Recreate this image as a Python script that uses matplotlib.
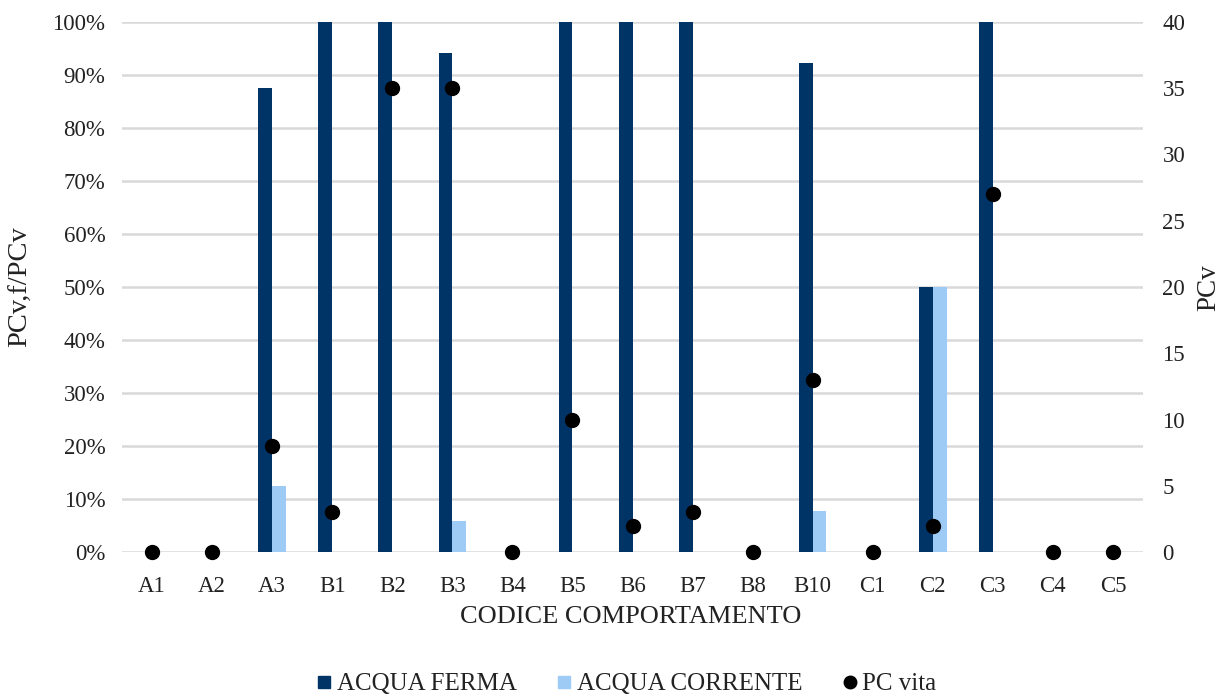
import matplotlib.pyplot as plt
import numpy as np
from matplotlib.lines import Line2D

SERIF = ['Liberation Serif', 'DejaVu Serif']
plt.rcParams['font.family'] = SERIF

categories = ["A1", "A2", "A3", "B1", "B2", "B3", "B4", "B5", "B6", "B7", "B8",
              "B10", "C1", "C2", "C3", "C4", "C5"]
acqua_ferma = [0, 0, 87.5, 100, 100, 94.1, 0, 100, 100, 100, 0, 92.3, 0, 50, 100, 0, 0]
acqua_corrente = [0, 0, 12.5, 0, 0, 5.9, 0, 0, 0, 0, 0, 7.7, 0, 50, 0, 0, 0]
pc_vita = [0, 0, 8, 3, 35, 35, 0, 10, 2, 3, 0, 13, 0, 2, 27, 0, 0]

dark = "#003366"
light = "#9ecbf5"
grid_c = "#d9d9d9"
txt_c = "#222222"
fs = 16.5

W, H = 1223, 697
fig = plt.figure(figsize=(W / 100, H / 100), dpi=100)
ax = fig.add_axes([122 / W, 1 - 552 / H, (1143 - 122) / W, (552 - 22) / H])
x = np.arange(len(categories))
w = 0.23
ax.bar(x - w / 2, acqua_ferma, width=w, color=dark, zorder=2)
ax.bar(x + w / 2, acqua_corrente, width=w, color=light, zorder=2)
ax.set_xlim(-0.5, len(categories) - 0.5)
ax.set_ylim(0, 100)
ax.set_yticks(np.arange(0, 101, 10))
ax.set_yticklabels([f"{v}%" for v in range(0, 101, 10)])
ax.yaxis.grid(True, color=grid_c, linewidth=1.8, zorder=0)
ax.set_axisbelow(True)
ax.set_xticks(x)
ax.set_xticklabels(categories)
for s in ax.spines.values():
    s.set_visible(False)
ax.tick_params(axis='both', length=0, labelsize=fs, colors=txt_c)
ax.tick_params(axis='x', pad=17)
ax.tick_params(axis='y', pad=12)

ax2 = ax.twinx()
ax2.plot(x, pc_vita, 'o', color='black', markersize=10, zorder=5, clip_on=False)
ax2.set_ylim(0, 40)
ax2.set_yticks(np.arange(0, 41, 5))
for s in ax2.spines.values():
    s.set_visible(False)
ax2.tick_params(axis='y', length=0, labelsize=fs, colors=txt_c, pad=14)

# axis titles
fig.text(21 / W, 1 - 287 / H, "PCv,f/PCv", rotation=90, ha='center', va='center',
         fontsize=20.5, color=txt_c)
fig.text(1209 / W, 1 - 288 / H, "PCv", rotation=90, ha='center', va='center',
         fontsize=19.5, color=txt_c)
fig.text(631 / W, 1 - 617 / H, "CODICE COMPORTAMENTO", ha='center', va='center',
         fontsize=19, color=txt_c)

handles = [
    Line2D([], [], marker='s', linestyle='none', color=dark, markersize=8),
    Line2D([], [], marker='s', linestyle='none', color=light, markersize=8),
    Line2D([], [], marker='o', linestyle='none', color='black', markersize=9),
]
leg = fig.legend(handles, ["ACQUA FERMA", "ACQUA CORRENTE", "PC vita"], loc='center',
                 bbox_to_anchor=(624 / W, 1 - 684 / H), ncol=3, frameon=False,
                 prop={'family': SERIF, 'size': 18},
                 handletextpad=0.0, columnspacing=1.4, handlelength=1.0)
for t in leg.get_texts():
    t.set_color(txt_c)

fig.savefig("out.png", dpi=100)
